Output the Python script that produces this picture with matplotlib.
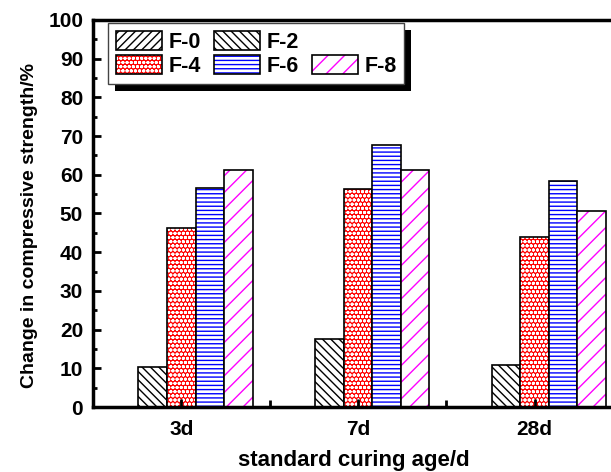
import numpy as np
import matplotlib
matplotlib.use("Agg")
from matplotlib import pyplot as plt
from matplotlib.patches import Rectangle
from matplotlib.legend_handler import HandlerTuple
from matplotlib.ticker import MultipleLocator

plt.rcParams['font.family'] = ['Liberation Sans', 'DejaVu Sans']
plt.rcParams['font.weight'] = 'bold'
plt.rcParams['hatch.linewidth'] = 1.0

ages = ["3d", "7d", "28d"]
series = ["F-0", "F-2", "F-4", "F-6", "F-8"]
f0 = [0.0, 0.0, 0.0]
f2 = [10.4, 17.5, 10.9]
f4 = [46.3, 56.2, 44.0]
f6 = [56.7, 67.6, 58.3]
f8 = [61.2, 61.2, 50.6]
values = [f0, f2, f4, f6, f8]

# (face colour, hatch colour, hatch)
styles = [
    ("white", "black", "////"),
    ("white", "black", "\\\\\\\\"),
    ("red", "white", "oooo"),
    ("white", "blue", "----"),
    ("white", "magenta", "//"),
]

fig = plt.figure(figsize=(6.11, 4.72), dpi=100)
ax = fig.add_axes([0.152, 0.1377, 0.853, 0.82])

x = np.arange(len(ages))
w = 0.162
handles = []
for i, (name, vals) in enumerate(zip(series, values)):
    fc, hc, hatch = styles[i]
    pos = x + (i - 2) * w
    fill = ax.bar(pos, vals, w, facecolor=fc, edgecolor=hc, hatch=hatch, linewidth=0)
    edge = ax.bar(pos, vals, w, facecolor="none", edgecolor="black", linewidth=1.2)
    handles.append((fill[0], edge[0]))

ax.set_xlim(-0.5, 2.45)
ax.set_ylim(0, 100)
ax.set_xticks(x)
ax.set_xticklabels(ages)
ax.set_xticks([0.5, 1.5], minor=True)
ax.yaxis.set_major_locator(MultipleLocator(10))
ax.yaxis.set_minor_locator(MultipleLocator(5))
ax.tick_params(which="major", direction="in", length=6, width=2, labelsize=15)
ax.tick_params(axis="x", which="major", pad=9)
ax.tick_params(axis="y", which="major", pad=7)
ax.tick_params(which="minor", direction="in", length=3, width=2)
ax.tick_params(axis="x", which="minor", length=5)
for s in ax.spines.values():
    s.set_linewidth(2.5)
ax.spines["right"].set_visible(False)

ax.set_xlabel("standard curing age/d", fontsize=16, fontweight="bold", labelpad=8)
ax.set_ylabel("Change in compressive strength/%", fontsize=14, fontweight="bold")
ax.yaxis.set_label_coords(-0.106, 0.47)

# legend: blank slot keeps F-8 on the second row
blank = Rectangle((0, 0), 1, 1, visible=False)
order = [handles[0], handles[2], handles[1], handles[3], blank, handles[4]]
labels = ["F-0", "F-4", "F-2", "F-6", "", "F-8"]
leg = ax.legend(order, labels, ncol=3, loc="upper left",
                bbox_to_anchor=(0.029, 0.992), borderaxespad=0,
                handler_map={tuple: HandlerTuple(ndivide=1)},
                prop={"size": 15.5, "weight": "bold"},
                handlelength=2.15, handleheight=1.0, handletextpad=0.3,
                columnspacing=0.6, labelspacing=0.1, borderpad=0.35,
                fancybox=False, framealpha=1, edgecolor="#444444")
leg.get_frame().set_linewidth(1.0)

# solid black drop shadow behind the legend box
fig.canvas.draw()
bb = leg.get_window_extent().transformed(ax.transAxes.inverted())
sx = 7 / ax.bbox.width
sy = 7 / ax.bbox.height
ax.add_patch(Rectangle((bb.x0 + sx, bb.y0 - sy), bb.width, bb.height,
                       transform=ax.transAxes, facecolor="black",
                       edgecolor="none", zorder=4.5, clip_on=False))

fig.savefig("out.png", dpi=100)
